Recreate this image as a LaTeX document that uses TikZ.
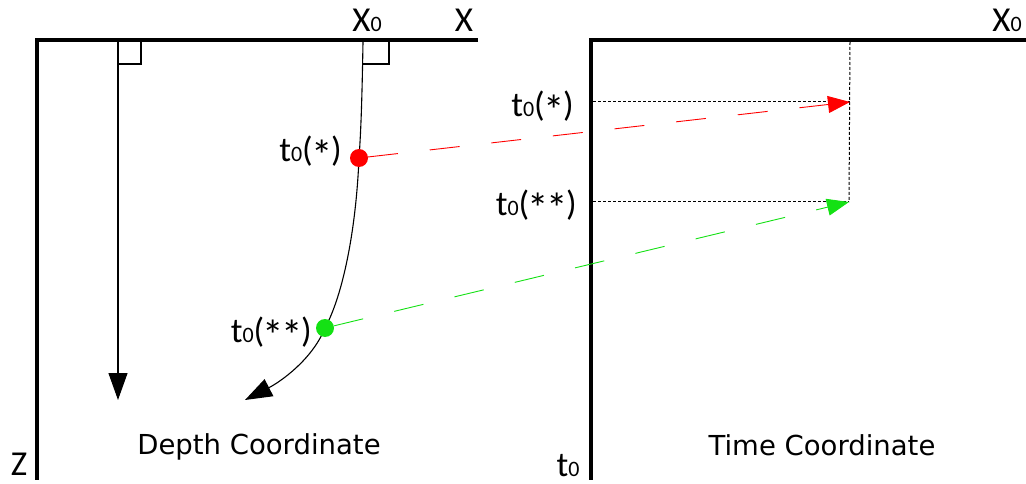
\documentclass[tikz,border=0pt]{standalone}
\usepackage{fontspec}
\setmainfont{DejaVu Sans}
\newfontfamily\labfont{Carlito}
\usetikzlibrary{arrows.meta}
\definecolor{myred}{RGB}{255,0,0}
\definecolor{mygreen}{RGB}{20,225,20}
\newcommand\zsub{{\fontsize{22}{24}\selectfont 0}}
\newcommand\bigast{{\fontsize{43}{43}\selectfont\kern-1.5pt\raisebox{-8.5pt}{*}\kern-1.5pt}}
\tikzset{
  axis/.style={line width=4pt, line join=miter, line cap=butt},
  thinln/.style={line width=1.1pt},
  dotln/.style={line width=1pt, dash pattern=on 3pt off 2pt},
  dot/.style={circle, inner sep=0pt, minimum size=18pt, draw=none},
  lab/.style={font=\labfont\fontsize{35}{40}\selectfont, inner sep=0pt},
  captext/.style={font=\fontsize{27.5}{30}\selectfont, inner sep=0pt, anchor=base},
  bigtip/.style={-{Triangle[length=27pt,width=19pt]}},
  ftip/.style={-{Triangle[length=22pt,width=17pt]}},
  dashln/.style={line width=0.9pt, dash pattern=on 30pt off 32pt}
}
\begin{document}
\begin{tikzpicture}[x=1pt,y=-1pt]
\useasboundingbox (0,0) rectangle (1026,484);
% axes
\coordinate (L0) at (37,40);
\coordinate (Lx) at (478,40);
\coordinate (Lz) at (37,480);
\coordinate (R0) at (591,40);
\coordinate (Rx) at (1026,40);
\coordinate (Rt) at (591,480);
\draw[axis] (Lx) -- (L0) -- (Lz);
\draw[axis] (Rx) -- (R0) -- (Rt);
% vertical ray
\coordinate (v0) at (118,42);
\coordinate (v1) at (118,400);
\draw[thinln, bigtip] (v0) -- (v1);
\draw[thinln] (118,64) -- (141,64) -- (141,42);
% curved ray
\coordinate (c0) at (363,42);
\coordinate (pr) at (359,158);
\coordinate (pg) at (325,328);
\coordinate (c1) at (245,400);
\draw[thinln] (363,64) -- (389,64) -- (389,42);
\draw[thinln, bigtip] (c0) .. controls (362,100) and (361,130) .. (pr)
  .. controls (356,230) and (343,295) .. (pg)
  .. controls (312,360) and (280,382) .. (c1);
\node[dot, fill=myred] (r1) at (pr) {};
\node[dot, fill=mygreen] (g1) at (pg) {};
% right panel
\coordinate (top) at (850,42);
\coordinate (r2) at (850,102);
\coordinate (g2) at (849,202);
\coordinate (ar) at (593,102);
\coordinate (ag) at (593,202);
\draw[dotln] (top) -- (g2);
\draw[dotln] (ar) -- (r2);
\draw[dotln] (ag) -- (g2);
\draw[dashln, myred, ftip] (r1) -- (r2);
\draw[dashln, mygreen, ftip] (g1) -- (g2);
% labels
\node[lab, anchor=base] (lx0) at (367,32) {X\zsub};
\node[lab, anchor=base] (lx) at (464,32) {X};
\node[lab, anchor=base] (rx0) at (1007,32) {X\zsub};
\node[lab, anchor=base east] (lt1) at (342,162) {t\zsub(\bigast)};
\node[lab, anchor=base east] (lt2) at (312,342) {t\zsub(\bigast\bigast)};
\node[lab, anchor=base east] (rt1) at (574,117) {t\zsub(\bigast)};
\node[lab, anchor=base east] (rt2) at (577,215) {t\zsub(\bigast\bigast)};
\node[lab, anchor=base] (lz) at (19,475) {Z};
\node[lab, anchor=base] (rtz) at (568,476) {t\zsub};
\node[captext] (dc) at (259,454) {Depth Coordinate};
\node[captext] (tc) at (822,455) {Time Coordinate};
\end{tikzpicture}
\end{document}
